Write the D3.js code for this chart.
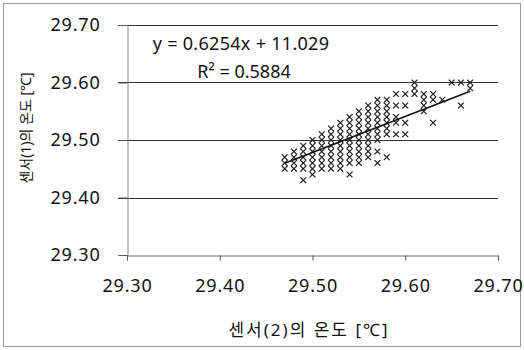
<!DOCTYPE html>
<html><head><meta charset="utf-8">
<script src="https://cdn.jsdelivr.net/npm/d3@7"></script>
<style>body{margin:0;background:#fff}svg{display:block}</style>
</head><body>
<script>
const xTicks = [29.30, 29.40, 29.50, 29.60, 29.70];
const yTicks = [29.30, 29.40, 29.50, 29.60, 29.70];
const xTitle = "센서(2)의 온도 [℃]";
const yTitle = "센서(1)의 온도 [℃]";
const equation = "y = 0.6254x + 11.029";
const rSquared = "R² = 0.5884";
const slope = 0.6254, intercept = 11.029;
// sensor(2) values (x) and the sensor(1) readings observed at each
const sensor2 = [29.47,29.48,29.49,29.50,29.51,29.52,29.53,29.54,29.55,29.56,29.57,29.58,29.59,29.60,29.61,29.62,29.63,29.64,29.65,29.66,29.67];
const sensor1 = [
  [29.45,29.46,29.47],
  [29.45,29.46,29.47,29.48],
  [29.43,29.45,29.46,29.47,29.48,29.49],
  [29.44,29.45,29.46,29.47,29.48,29.49,29.50],
  [29.45,29.46,29.47,29.48,29.49,29.50,29.51],
  [29.45,29.46,29.47,29.48,29.49,29.50,29.51,29.52],
  [29.45,29.46,29.47,29.48,29.49,29.50,29.51,29.52,29.53],
  [29.44,29.46,29.47,29.48,29.49,29.50,29.51,29.52,29.53,29.54],
  [29.46,29.47,29.48,29.49,29.50,29.51,29.52,29.53,29.54,29.55],
  [29.47,29.48,29.49,29.50,29.51,29.52,29.53,29.54,29.55,29.56],
  [29.46,29.48,29.50,29.51,29.52,29.53,29.54,29.55,29.56,29.57],
  [29.47,29.51,29.52,29.53,29.54,29.55,29.56,29.57],
  [29.51,29.53,29.54,29.56,29.58],
  [29.51,29.53,29.56,29.58],
  [29.58,29.59,29.60],
  [29.55,29.56,29.57,29.58],
  [29.53,29.57,29.58],
  [29.57],
  [29.60],
  [29.56,29.60],
  [29.59,29.60]
];

const W = 524, H = 350;
const svg = d3.select("body").append("svg").attr("width", W).attr("height", H);
const font = "'Noto Sans','Noto Sans CJK KR',sans-serif";

svg.append("rect").attr("x", 3.5).attr("y", 3.5).attr("width", 517).attr("height", 343)
  .attr("fill", "#fff").attr("stroke", "#999").attr("stroke-width", 1);

const x = d3.scaleLinear().domain([29.3, 29.7]).range([127, 498]);
const y = d3.scaleLinear().domain([29.3, 29.7]).range([255, 25]);

// gridlines
svg.append("g").selectAll("line").data(yTicks.slice(1)).join("line")
  .attr("x1", x(29.3) - 9).attr("x2", x(29.7))
  .attr("y1", d => Math.round(y(d)) + 0.5).attr("y2", d => Math.round(y(d)) + 0.5)
  .attr("stroke", "#333").attr("stroke-width", 1);

// y axis
const yAxis = svg.append("g").attr("transform", `translate(${Math.round(x(29.3)) + 0.5},0)`)
  .call(d3.axisLeft(y).tickValues(yTicks).tickFormat(d3.format(".2f")).tickSize(9).tickPadding(18));
yAxis.select(".domain").attr("stroke", "#888");
yAxis.selectAll(".tick line").attr("stroke", "#555");
yAxis.selectAll("text").attr("font-family", font).attr("font-size", 18).attr("letter-spacing", 0.8).attr("fill", "#111");

// x axis
const xAxis = svg.append("g").attr("transform", `translate(0,${Math.round(y(29.3)) + 0.5})`)
  .call(d3.axisBottom(x).tickValues(xTicks).tickFormat(d3.format(".2f")).tickSize(5).tickPadding(19));
xAxis.select(".domain").attr("stroke", "#666");
xAxis.selectAll(".tick line").attr("stroke", "#555");
xAxis.selectAll("text").attr("font-family", font).attr("font-size", 18).attr("letter-spacing", 0.8).attr("fill", "#111");

// points
const pts = [];
sensor2.forEach((xv, i) => sensor1[i].forEach(yv => pts.push([xv, yv])));
const s = 2.9;
svg.append("g").selectAll("path").data(pts).join("path")
  .attr("d", d => {
    const px = x(d[0]), py = y(d[1]);
    return `M${px - s},${py - s}L${px + s},${py + s}M${px - s},${py + s}L${px + s},${py - s}`;
  })
  .attr("stroke", "#222").attr("stroke-width", 1.3).attr("fill", "none");

// trend line
const xr = d3.extent(sensor2);
svg.append("line")
  .attr("x1", x(xr[0])).attr("y1", y(slope * xr[0] + intercept))
  .attr("x2", x(xr[1])).attr("y2", y(slope * xr[1] + intercept))
  .attr("stroke", "#111").attr("stroke-width", 1.6);

// equation
svg.append("text").attr("x", 241).attr("y", 50).attr("text-anchor", "middle")
  .attr("font-family", font).attr("font-size", 18).attr("letter-spacing", 0.3).attr("fill", "#111").text(equation);
svg.append("text").attr("x", 244).attr("y", 78).attr("text-anchor", "middle")
  .attr("font-family", font).attr("font-size", 18).attr("fill", "#111").text(rSquared);

// axis titles
svg.append("text").attr("x", 309).attr("y", 336).attr("text-anchor", "middle")
  .attr("font-family", font).attr("font-size", 17).attr("letter-spacing", 2).attr("fill", "#111").text(xTitle);
svg.append("text").attr("transform", "translate(31,128) rotate(-90)").attr("text-anchor", "middle")
  .attr("font-family", font).attr("font-size", 14).attr("fill", "#111").text(yTitle);
</script>
</body></html>
